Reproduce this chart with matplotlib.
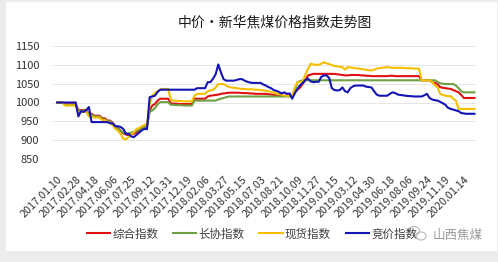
import matplotlib
matplotlib.use("Agg")
import matplotlib.pyplot as plt
from matplotlib.patches import Ellipse, Rectangle

plt.rcParams['font.family'] = ['Noto Sans CJK SC', 'DejaVu Sans']

# Weekly index values (2017.01.10 onwards)
composite = [
    1000, 1000, 1000, 995, 995, 995, 995, 995, 980, 980,
    980, 980, 970, 970, 965, 965, 965, 958, 958, 952,
    952, 946, 938, 932, 925, 918, 915, 913, 915, 917,
    921, 926, 930, 934, 937, 979, 992, 996, 1005, 1010,
    1010, 1010, 1010, 998, 997, 997, 996, 996, 996, 996,
    996, 996, 1010, 1010, 1010, 1010, 1010, 1016, 1018, 1019,
    1020, 1021, 1023, 1024, 1025, 1026, 1026, 1026, 1026, 1026,
    1025, 1025, 1025, 1024, 1024, 1023, 1023, 1023, 1023, 1023,
    1022, 1021, 1020, 1019, 1018, 1018, 1018, 1018, 1018, 1018,
    1027, 1034, 1040, 1050, 1059, 1072, 1074, 1076, 1076, 1076,
    1076, 1076, 1076, 1076, 1076, 1076, 1075, 1074, 1073, 1072,
    1072, 1073, 1073, 1073, 1073, 1072, 1072, 1071, 1071, 1070,
    1070, 1070, 1070, 1070, 1070, 1070, 1071, 1071, 1070, 1070,
    1070, 1070, 1070, 1070, 1070, 1070, 1070, 1070, 1059, 1059,
    1059, 1059, 1054, 1052, 1049, 1041, 1039, 1038, 1037, 1036,
    1033, 1030, 1027, 1020, 1012, 1012, 1012, 1012, 1012,
]

long_term = [
    1000, 1000, 1000, 993, 993, 993, 993, 993, 978, 978,
    978, 978, 968, 968, 963, 963, 963, 955, 955, 950,
    950, 944, 936, 930, 925, 920, 918, 918, 920, 922,
    925, 928, 932, 935, 938, 975, 979, 985, 995, 1001,
    1001, 1001, 1001, 994, 994, 993, 993, 993, 992, 992,
    992, 992, 1005, 1005, 1005, 1005, 1005, 1005, 1005, 1005,
    1005, 1008, 1010, 1012, 1014, 1016, 1016, 1016, 1016, 1016,
    1016, 1016, 1016, 1016, 1016, 1016, 1016, 1016, 1016, 1016,
    1016, 1016, 1016, 1016, 1016, 1016, 1016, 1016, 1016, 1016,
    1032, 1054, 1057, 1059, 1059, 1059, 1059, 1059, 1059, 1059,
    1059, 1059, 1059, 1059, 1059, 1059, 1059, 1059, 1059, 1059,
    1059, 1059, 1059, 1059, 1059, 1059, 1059, 1059, 1059, 1059,
    1059, 1059, 1059, 1059, 1059, 1059, 1059, 1059, 1059, 1059,
    1059, 1059, 1059, 1059, 1059, 1059, 1059, 1059, 1059, 1059,
    1059, 1059, 1059, 1059, 1055, 1051, 1050, 1049, 1049, 1049,
    1049, 1045, 1038, 1030, 1027, 1027, 1027, 1027, 1027,
]

spot = [
    1000, 1000, 1000, 992, 992, 992, 992, 992, 975, 975,
    975, 975, 963, 963, 960, 960, 960, 953, 953, 948,
    946, 940, 930, 925, 917, 904, 902, 908, 915, 920,
    930, 932, 937, 940, 944, 996, 1018, 1025, 1030, 1034,
    1036, 1036, 1036, 1007, 1005, 1005, 1004, 1004, 1003, 1003,
    1003, 1003, 1018, 1023, 1023, 1023, 1023, 1030, 1032, 1034,
    1040, 1049, 1049, 1049, 1045, 1041, 1040, 1039, 1038, 1037,
    1036, 1036, 1035, 1035, 1035, 1034, 1034, 1033, 1032, 1031,
    1030, 1028, 1026, 1024, 1023, 1021, 1018, 1018, 1018, 1018,
    1041, 1054, 1055, 1056, 1075, 1090, 1103, 1101, 1100, 1100,
    1103, 1107, 1104, 1102, 1099, 1097, 1096, 1095, 1094, 1087,
    1094, 1093, 1092, 1091, 1090, 1089, 1088, 1087, 1086, 1085,
    1087, 1090, 1091, 1092, 1093, 1094, 1093, 1092, 1092, 1092,
    1092, 1092, 1091, 1091, 1091, 1090, 1090, 1090, 1059, 1059,
    1059, 1059, 1055, 1045, 1041, 1023, 1020, 1018, 1017, 1017,
    1010, 1005, 983, 983, 983, 983, 983, 983, 983,
]

auction = [
    1000, 1000, 1000, 1000, 1000, 1000, 1000, 1000, 963, 977,
    975, 980, 988, 948, 948, 948, 948, 948, 948, 948,
    945, 944, 937, 937, 935, 930, 917, 917, 910, 908,
    914, 920, 926, 930, 929, 1014, 1016, 1018, 1028, 1034,
    1034, 1034, 1034, 1034, 1034, 1034, 1034, 1034, 1034, 1034,
    1034, 1034, 1034, 1038, 1038, 1038, 1038, 1054, 1054, 1063,
    1075, 1101, 1080, 1062, 1058, 1058, 1058, 1058, 1060, 1062,
    1062, 1058, 1055, 1053, 1052, 1052, 1052, 1052, 1048, 1045,
    1041, 1038, 1033, 1031, 1028, 1024, 1027, 1023, 1024, 1010,
    1025, 1036, 1046, 1052, 1060, 1063, 1056, 1054, 1055, 1055,
    1068, 1072, 1072, 1065, 1038, 1033, 1032, 1033, 1040, 1030,
    1027, 1038, 1043, 1045, 1045, 1045, 1045, 1042, 1041, 1040,
    1030, 1021, 1018, 1018, 1018, 1018, 1023, 1027, 1025, 1021,
    1020, 1019, 1018, 1017, 1017, 1016, 1016, 1016, 1016, 1019,
    1023, 1012, 1008, 1006, 1005, 1002, 998, 994, 986, 983,
    981, 979, 977, 972, 971, 970, 970, 970, 970,
]

tick_labels = [
    "2017.01.10", "2017.02.28", "2017.04.18", "2017.06.06", "2017.07.25",
    "2017.09.12", "2017.10.31", "2017.12.19", "2018.02.06", "2018.03.27",
    "2018.05.15", "2018.07.03", "2018.08.21", "2018.10.09", "2018.11.27",
    "2019.01.15", "2019.03.12", "2019.04.30", "2019.06.18", "2019.08.06",
    "2019.09.24", "2019.11.19", "2020.01.14",
]
tick_step = 7

series_names = ["综合指数", "长协指数", "现货指数", "竞价指数"]
series_colors = ["#e01010", "#6fa043", "#f5bf00", "#1414b4"]

W, H = 498, 262
fig = plt.figure(figsize=(W / 100, H / 100), dpi=100)
fig.patch.set_facecolor("#ececec")

# white card behind everything
fig.patches.append(Rectangle((6 / W, 11 / H), 491 / W, 249 / H,
                             transform=fig.transFigure, facecolor="white",
                             edgecolor="none", zorder=-5))

ax = fig.add_axes([53 / W, (H - 159) / H, 423 / W, 113 / H])
ax.set_zorder(3)
ax.set_facecolor("none")

x = list(range(len(composite)))
for vals, name, col in zip([composite, long_term, spot, auction],
                           series_names, series_colors):
    ax.plot(x, vals, color=col, lw=1.5, label=name, solid_joinstyle="round")

ax.set_xlim(-1.6, 158.6)
ax.set_ylim(850, 1150)
ax.set_yticks(range(850, 1151, 50))
ax.grid(axis="y", color="#e6e6e6", lw=0.7)
ax.set_axisbelow(True)
for s in ax.spines.values():
    s.set_visible(False)

ax.set_xticks([i * tick_step for i in range(len(tick_labels))])
ax.set_xticklabels(tick_labels, rotation=45, ha="right", va="top",
                   rotation_mode="anchor", fontsize=7.8, color="#333333")
ax.tick_params(axis="x", length=0, pad=11)
ax.tick_params(axis="y", length=0, pad=10, labelsize=8, labelcolor="#333333")

fig.text(275 / W, (H - 22) / H, "中价・新华焦煤价格指数走势图",
         ha="center", va="center", fontsize=10, color="#1a1a1a")

handles, labels = ax.get_legend_handles_labels()
fig.legend(handles, labels, loc="center", bbox_to_anchor=(252 / W, (H - 234) / H),
           ncol=4, frameon=False, fontsize=8.3, handlelength=2.0,
           handletextpad=0.2, columnspacing=1.3, labelcolor="#404040")

# watermark: chat-bubble icon and account name
fig.patches.append(Ellipse((414 / W, (H - 231) / H), 11 / W, 9 / H,
                           transform=fig.transFigure, facecolor="none",
                           edgecolor="#b8b8b8", lw=0.8, zorder=5))
fig.patches.append(Ellipse((421 / W, (H - 236) / H), 10 / W, 8 / H,
                           transform=fig.transFigure, facecolor="none",
                           edgecolor="#b8b8b8", lw=0.8, zorder=5))
fig.text(458 / W, (H - 235) / H, "山西焦煤", ha="center", va="center",
         fontsize=9, color="#9a9a9a")

fig.savefig("out.png", dpi=100)
